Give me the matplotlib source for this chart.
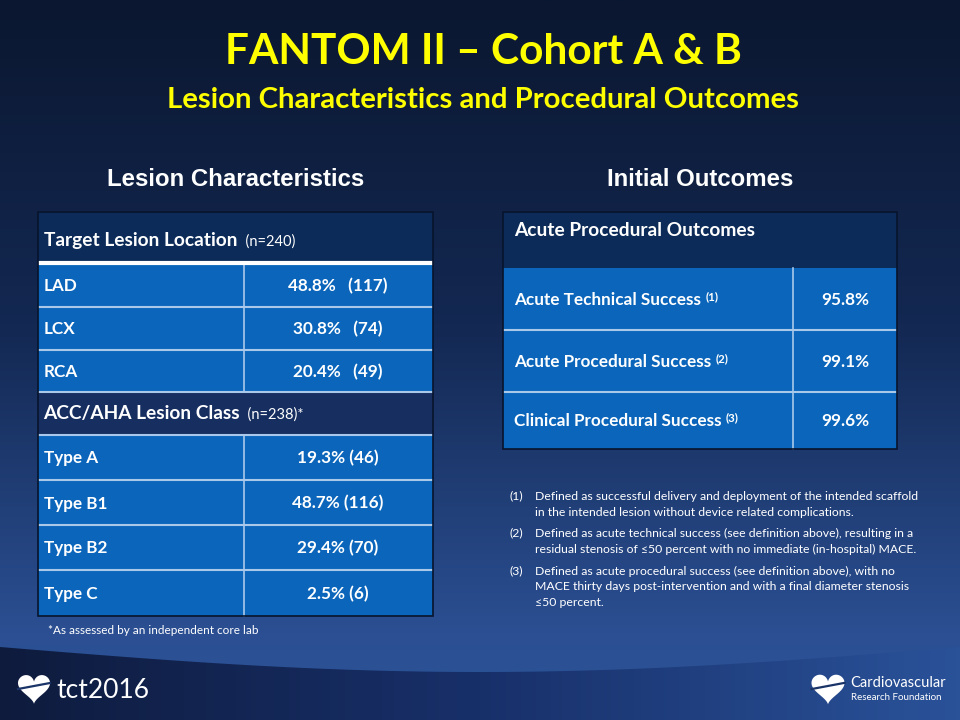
import numpy as np
import matplotlib
matplotlib.use("Agg")
from matplotlib import pyplot as plt
from matplotlib.patches import Rectangle, Polygon

# --- data -----------------------------------------------------------------
loc_labels = ["LAD", "LCX", "RCA"]
loc_pct = [48.8, 30.8, 20.4]
loc_n = [117, 74, 49]

class_labels = ["Type A", "Type B1", "Type B2", "Type C"]
class_pct = [19.3, 48.7, 29.4, 2.5]
class_n = [46, 116, 70, 6]

outcome_labels = ["Acute Technical Success", "Acute Procedural Success",
                  "Clinical Procedural Success"]
outcome_refs = ["(1)", "(2)", "(3)"]
outcome_pct = [95.8, 99.1, 99.6]

footnotes = [
    ["Defined as successful delivery and deployment of the intended scaffold",
     "in the intended lesion without device related complications."],
    ["Defined as acute technical success (see definition above), resulting in a",
     "residual stenosis of \u226450 percent with no immediate (in-hospital) MACE."],
    ["Defined as acute procedural success (see definition above), with no",
     "MACE thirty days post-intervention and with a final diameter stenosis",
     "\u226450 percent."],
]

BODY = ["Lato", "DejaVu Sans"]
HEAD = ["Liberation Sans", "DejaVu Sans"]
CELL = "#0b66bb"
HDR1 = "#0c2b58"
HDR2 = "#172e60"
GRID = "#a9c8ea"
HSIZE = 13.8   # header rows
RSIZE = 12.3   # body rows

fig = plt.figure(figsize=(9.6, 7.2), dpi=100)
ax = fig.add_axes([0, 0, 1, 1])
ax.set_xlim(0, 960)
ax.set_ylim(720, 0)
ax.axis("off")

# background: vertical gradient
grad = np.linspace(0, 1, 256)[:, None]
cmap_bg = matplotlib.colors.LinearSegmentedColormap.from_list(
    "bg", [(0, "#0b1730"), (0.45, "#132852"), (0.88, "#2b4f92"), (1, "#2d5499")])
ax.imshow(grad, extent=(0, 960, 720, 0), cmap=cmap_bg, aspect="auto", zorder=0)

# bottom band with horizontal gradient under a sagging curve
xs = np.linspace(0, 960, 200)
edge = 647 + 25 * np.sin(np.pi * xs / 960)
band = Polygon(np.vstack([np.column_stack([xs, edge]), [[960, 720], [0, 720]]]),
               closed=True, facecolor="none", edgecolor="none")
ax.add_patch(band)
cmap_band = matplotlib.colors.LinearSegmentedColormap.from_list(
    "band", [(0, "#0e1b3d"), (0.5, "#18306a"), (1, "#2a5299")])
im = ax.imshow(np.linspace(0, 1, 256)[None, :], extent=(0, 960, 720, 640),
               cmap=cmap_band, aspect="auto", zorder=1)
im.set_clip_path(band)

renderer = fig.canvas.get_renderer()
inv = ax.transData.inverted()


def run(x, y, parts, color="white"):
    # draw text pieces one after another on a common baseline
    for txt, size, weight, dy in parts:
        t = ax.text(x, y + dy, txt, fontsize=size, fontweight=weight, color=color,
                    family=BODY, va="baseline", ha="left", zorder=5)
        bb = t.get_window_extent(renderer)
        x = inv.transform((bb.x1, bb.y0))[0]
    return x


def cell(x0, x1, y0, y1, color):
    ax.add_patch(Rectangle((x0, y0), x1 - x0, y1 - y0, facecolor=color,
                           edgecolor="none", zorder=3))


# titles
ax.text(483, 52, "FANTOM II \u2013 Cohort A & B", fontsize=30.5, fontweight="bold",
        color="#ffff00", family=BODY, ha="center", va="center", zorder=5)
ax.text(483, 100, "Lesion Characteristics and Procedural Outcomes", fontsize=21.2,
        fontweight="bold", color="#ffff00", family=BODY, ha="center", va="center", zorder=5)
ax.text(236, 180, "Lesion Characteristics", fontsize=17.3, fontweight="bold",
        color="white", family=HEAD, ha="center", va="center", zorder=5)
ax.text(700, 180, "Initial Outcomes", fontsize=17.3, fontweight="bold",
        color="white", family=HEAD, ha="center", va="center", zorder=5)

# ---- left table ----
lx0, lx1, lxm = 38, 433, 244
rows = [212, 263, 307, 350, 392, 435, 480, 525, 570, 616]
cell(lx0, lx1, rows[0], rows[1], HDR1)
cell(lx0, lx1, rows[4], rows[5], HDR2)
data_rows = list(zip(loc_labels, loc_pct, loc_n, [True] * 3)) + \
    list(zip(class_labels, class_pct, class_n, [False] * 4))
body_idx = [1, 2, 3, 5, 6, 7, 8]
for k, (lab, pct, n, wide) in zip(body_idx, data_rows):
    y0, y1 = rows[k], rows[k + 1]
    cell(lx0, lx1, y0, y1, CELL)
    yc = (y0 + y1) / 2
    ax.text(44, yc + 6, lab, fontsize=RSIZE, fontweight="bold", color="white",
            family=BODY, va="baseline", zorder=5)
    val = f"{pct:.1f}%   ({n})" if wide else f"{pct:.1f}% ({n})"
    ax.text(338, yc + 6, val, fontsize=RSIZE, fontweight="bold", color="white",
            family=BODY, va="baseline", ha="center", zorder=5)
    ax.plot([lxm, lxm], [y0, y1], color=GRID, lw=1.2, zorder=4)
for k in [2, 3, 4, 5, 6, 7, 8]:
    ax.plot([lx0, lx1], [rows[k], rows[k]], color=GRID, lw=1.5, zorder=4,
            solid_capstyle="butt")
ax.plot([lx0, lx1], [rows[1], rows[1]], color="white", lw=3, zorder=4,
        solid_capstyle="butt")
ax.add_patch(Rectangle((lx0, rows[0]), lx1 - lx0, rows[-1] - rows[0], facecolor="none",
                       edgecolor="#08142c", lw=1.2, zorder=4))
run(44, 246, [("Target Lesion Location", HSIZE, "bold", 0), ("  (n=240)", 10.5, "normal", 0)])
run(43, 419, [("ACC/AHA Lesion Class", HSIZE, "bold", 0), ("  (n=238)*", 10.5, "normal", 0)])
ax.text(48, 630, "*As assessed by an independent core lab", fontsize=8.5, color="white",
        family=BODY, va="center", zorder=5)

# ---- right table ----
rx0, rx1, rxm = 503, 897, 793
rrows = [212, 268, 330, 392, 449]
cell(rx0, rx1, rrows[0], rrows[1], HDR1)
ax.text(514, 231, "Acute Procedural Outcomes", fontsize=HSIZE, fontweight="bold",
        color="white", family=BODY, va="center", zorder=5)
for i, (lab, ref, pct) in enumerate(zip(outcome_labels, outcome_refs, outcome_pct)):
    y0, y1 = rrows[i + 1], rrows[i + 2]
    cell(rx0, rx1, y0, y1, CELL)
    yc = (y0 + y1) / 2
    run(514, yc + 6, [(lab + " ", RSIZE, "bold", 0), (ref, 8.3, "bold", -5)])
    ax.text(845, yc + 6, f"{pct:.1f}%", fontsize=RSIZE, fontweight="bold", color="white",
            family=BODY, va="baseline", ha="center", zorder=5)
    ax.plot([rxm, rxm], [y0, y1], color=GRID, lw=1.2, zorder=4)
for k in [2, 3]:
    ax.plot([rx0, rx1], [rrows[k], rrows[k]], color=GRID, lw=1.5, zorder=4,
            solid_capstyle="butt")
ax.add_patch(Rectangle((rx0, rrows[0]), rx1 - rx0, rrows[-1] - rrows[0], facecolor="none",
                       edgecolor="#08142c", lw=1.2, zorder=4))

# footnotes
fy = [496, 533, 571]
for i, lines in enumerate(footnotes):
    ax.text(510, fy[i], f"({i + 1})", fontsize=8.8, color="white", family=BODY,
            va="center", zorder=5)
    for j, line in enumerate(lines):
        ax.text(535, fy[i] + 16 * j, line, fontsize=8.8, color="white", family=BODY,
                va="center", zorder=5)


# logos
def heart(cx, cy, w):
    t = np.linspace(0, 2 * np.pi, 200)
    hx = 16 * np.sin(t) ** 3
    hy = 13 * np.cos(t) - 5 * np.cos(2 * t) - 2 * np.cos(3 * t) - np.cos(4 * t)
    s = w / 32
    ax.add_patch(Polygon(np.column_stack([cx + hx * s, cy - hy * s]), closed=True,
                         facecolor="white", edgecolor="none", zorder=5))
    ax.plot([cx - 16 * s, cx + 16 * s], [cy + 2 * s, cy - 4 * s], color="#1a3468",
            lw=1.6, zorder=6)


heart(34, 687, 32)
ax.text(56, 690, "tct2016", fontsize=19, color="white", family=BODY, va="center", zorder=5)
heart(828, 687, 33)
ax.text(850, 683, "Cardiovascular", fontsize=10.5, color="white", family=BODY,
        va="center", zorder=5)
ax.text(851, 697, "Research Foundation", fontsize=7, color="white", family=BODY,
        va="center", zorder=5)

fig.savefig("out.png", dpi=100)
